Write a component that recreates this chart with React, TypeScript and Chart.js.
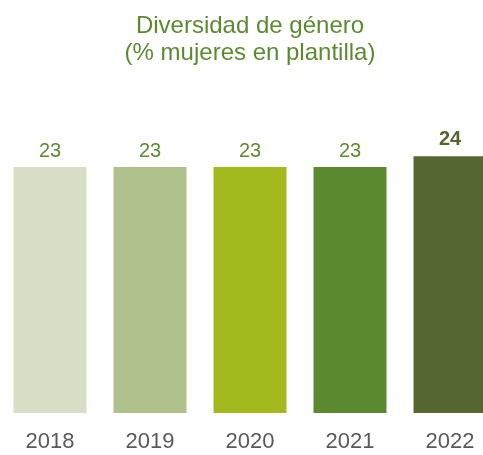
import React, { useEffect, useRef } from "react";
import { Chart, registerables } from "chart.js";

Chart.register(...registerables);

const categories = ["2018", "2019", "2020", "2021", "2022"];
const values = [23, 23, 23, 23, 24];
const barColors = ["#d8dfc6", "#afc08b", "#a4b91e", "#5b892f", "#566631"];
const labelColors = ["#5b8a31", "#5b8a31", "#5b8a31", "#5b8a31", "#536630"];
const labelBold = [false, false, false, false, true];
const titleLines = ["Diversidad de género", "(% mujeres en plantilla)"];

const FONT = "'Liberation Sans', Arial, sans-serif";

const valueLabelPlugin = {
  id: "valueLabels",
  afterDatasetsDraw(chart: any) {
    const ctx = chart.ctx;
    const meta = chart.getDatasetMeta(0);
    ctx.save();
    ctx.textAlign = "center";
    ctx.textBaseline = "alphabetic";
    meta.data.forEach((bar: any, i: number) => {
      const bold = labelBold[i];
      ctx.font = `${bold ? "bold " : ""}20px ${FONT}`;
      ctx.fillStyle = labelColors[i];
      ctx.fillText(String(values[i]), bar.x, bar.y - (bold ? 11 : 10));
    });
    ctx.restore();
  },
};

export default function App() {
  const ref = useRef<HTMLCanvasElement | null>(null);
  useEffect(() => {
    if (!ref.current) return;
    const chart = new Chart(ref.current, {
      type: "bar",
      data: {
        labels: categories,
        datasets: [
          {
            data: values,
            backgroundColor: barColors,
            borderWidth: 0,
            barPercentage: 0.73,
            categoryPercentage: 1,
          },
        ],
      },
      options: {
        responsive: false,
        animation: false,
        layout: { padding: { left: 0, right: 0, top: 0, bottom: 0 } },
        plugins: {
          legend: { display: false },
          tooltip: { enabled: false },
          title: {
            display: true,
            text: titleLines,
            color: "#5b8a31",
            font: { family: FONT, size: 24, weight: "normal", lineHeight: 1.125 },
            padding: { top: 13, bottom: 25 },
          },
        },
        scales: {
          x: {
            grid: { display: false, drawTicks: false },
            border: { display: false },
            ticks: {
              color: "#595959",
              padding: 16,
              font: { family: FONT, size: 22 },
            },
            afterFit: (scale: any) => {
              scale.height = 42;
            },
          },
          y: {
            display: false,
            min: 0,
            max: 30,
          },
        },
      },
      plugins: [valueLabelPlugin],
    });
    return () => chart.destroy();
  }, []);
  return (
    <div
      style={{
        position: "fixed",
        left: 0,
        top: 0,
        width: 483,
        height: 455,
        overflow: "hidden",
        background: "#ffffff",
      }}
    >
      <canvas ref={ref} width={500} height={455} style={{ display: "block" }} />
    </div>
  );
}
